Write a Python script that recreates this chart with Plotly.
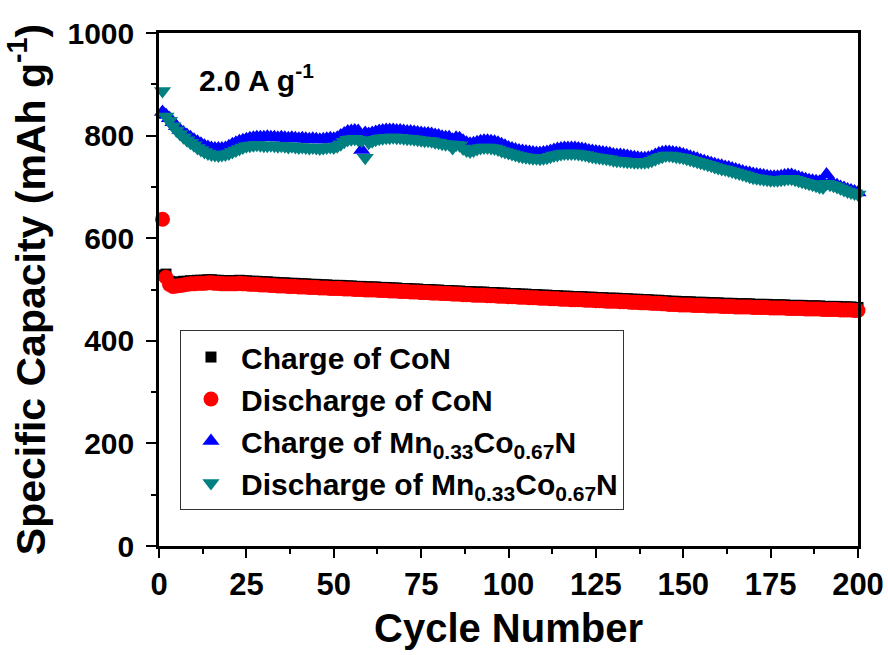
import plotly.graph_objects as go

# Cycle index (1..200)
cycles = list(range(1, 201))

# CoN - charge capacity (mAh g-1)
con_charge = [
    528, 530, 516, 513, 514, 515, 516, 516, 517, 517,
    518, 518, 518, 519, 519, 518, 518, 517, 517, 517,
    517, 517, 518, 517, 517, 516, 516, 516, 515, 515,
    515, 514, 514, 513, 513, 513, 512, 512, 512, 511,
    511, 511, 510, 510, 510, 509, 509, 509, 508, 508,
    508, 508, 507, 507, 507, 506, 506, 506, 505, 505,
    505, 505, 504, 504, 504, 503, 503, 503, 502, 502,
    502, 501, 501, 501, 500, 500, 500, 499, 499, 499,
    498, 498, 498, 497, 497, 497, 496, 496, 496, 495,
    495, 495, 495, 494, 494, 494, 493, 493, 493, 492,
    492, 492, 491, 491, 491, 490, 490, 490, 489, 489,
    489, 488, 488, 488, 487, 487, 487, 486, 486, 486,
    486, 485, 485, 485, 484, 484, 484, 483, 483, 483,
    483, 482, 482, 482, 481, 481, 481, 480, 480, 480,
    479, 479, 479, 478, 478, 477, 477, 477, 476, 476,
    476, 476, 475, 475, 475, 475, 474, 474, 474, 474,
    473, 473, 473, 473, 472, 472, 472, 472, 472, 471,
    471, 471, 471, 471, 470, 470, 470, 470, 470, 469,
    469, 469, 469, 469, 468, 468, 468, 468, 468, 467,
    467, 467, 467, 467, 466, 466, 466, 466, 465, 465,
]

# CoN - discharge capacity (mAh g-1)
con_discharge = [
    637, 524, 510, 506, 507, 508, 509, 510, 511, 511,
    512, 512, 512, 513, 513, 512, 512, 511, 511, 511,
    511, 511, 512, 511, 511, 510, 510, 510, 509, 509,
    509, 508, 508, 507, 507, 507, 506, 506, 506, 505,
    505, 505, 504, 504, 504, 503, 503, 503, 502, 502,
    502, 502, 501, 501, 501, 500, 500, 500, 499, 499,
    499, 499, 498, 498, 498, 497, 497, 497, 496, 496,
    496, 495, 495, 495, 494, 494, 494, 493, 493, 493,
    492, 492, 492, 491, 491, 491, 490, 490, 490, 489,
    489, 489, 489, 488, 488, 488, 487, 487, 487, 486,
    486, 486, 485, 485, 485, 484, 484, 484, 483, 483,
    483, 482, 482, 482, 481, 481, 481, 480, 480, 480,
    480, 479, 479, 479, 478, 478, 478, 477, 477, 477,
    477, 476, 476, 476, 475, 475, 475, 474, 474, 474,
    473, 473, 473, 472, 472, 471, 471, 471, 470, 470,
    470, 470, 469, 469, 469, 469, 468, 468, 468, 468,
    467, 467, 467, 467, 466, 466, 466, 466, 466, 465,
    465, 465, 465, 465, 464, 464, 464, 464, 464, 463,
    463, 463, 463, 463, 462, 462, 462, 462, 462, 461,
    461, 461, 461, 461, 460, 460, 460, 460, 459, 459,
]

# Mn0.33Co0.67N - charge capacity (mAh g-1)
mnco_charge = [
    846, 840, 834, 826, 818, 811, 806, 801, 797, 792,
    788, 784, 780, 778, 776, 775, 775, 775, 776, 779,
    783, 786, 789, 791, 793, 795, 796, 797, 797, 797,
    798, 797, 797, 796, 797, 796, 795, 796, 795, 794,
    795, 794, 793, 794, 793, 792, 793, 794, 795, 794,
    796, 800, 804, 808, 809, 810, 809, 772, 805, 803,
    805, 807, 809, 810, 811, 811, 811, 810, 810, 809,
    808, 808, 807, 806, 805, 804, 804, 803, 801, 800,
    798, 797, 797, 792, 796, 795, 790, 786, 784, 785,
    787, 789, 790, 790, 789, 788, 786, 783, 780, 777,
    775, 773, 771, 770, 769, 768, 767, 766, 766, 767,
    768, 770, 772, 774, 775, 776, 776, 776, 776, 775,
    774, 773, 771, 770, 769, 768, 767, 766, 765, 763,
    762, 762, 761, 760, 759, 758, 757, 756, 756, 757,
    759, 762, 765, 767, 768, 768, 767, 766, 765, 763,
    761, 759, 757, 755, 752, 750, 748, 746, 744, 742,
    741, 739, 738, 736, 734, 732, 730, 728, 727, 725,
    724, 723, 722, 721, 720, 720, 720, 721, 722, 723,
    723, 721, 719, 717, 715, 713, 712, 711, 710, 709,
    724, 708, 705, 703, 700, 698, 695, 693, 691, 689,
]

# Mn0.33Co0.67N - discharge capacity (mAh g-1)
mnco_discharge = [
    887, 837, 829, 818, 810, 803, 797, 791, 786, 781,
    776, 772, 768, 765, 763, 762, 761, 762, 763, 765,
    768, 771, 774, 777, 779, 780, 781, 782, 781, 780,
    780, 781, 780, 779, 780, 779, 778, 779, 778, 777,
    778, 777, 776, 777, 776, 775, 776, 777, 778, 777,
    779, 783, 788, 792, 793, 794, 792, 790, 757, 786,
    789, 792, 794, 795, 796, 796, 797, 796, 796, 795,
    794, 794, 793, 792, 791, 790, 790, 789, 787, 786,
    784, 783, 783, 776, 782, 781, 775, 771, 769, 771,
    774, 776, 777, 777, 776, 775, 773, 770, 768, 766,
    764, 762, 760, 759, 758, 757, 756, 756, 755, 756,
    757, 759, 761, 762, 764, 765, 765, 765, 765, 764,
    763, 762, 760, 759, 758, 757, 756, 755, 754, 752,
    751, 751, 750, 749, 749, 748, 748, 748, 748, 749,
    751, 754, 757, 759, 761, 761, 760, 759, 758, 757,
    755, 753, 751, 749, 747, 745, 743, 741, 739, 737,
    735, 734, 732, 730, 728, 726, 724, 722, 720, 718,
    717, 716, 715, 714, 713, 713, 713, 714, 715, 716,
    716, 714, 712, 710, 708, 706, 704, 702, 700, 699,
    706, 704, 702, 700, 697, 694, 691, 689, 687, 685,
]

FONT = "Liberation Sans, Arial, Helvetica, sans-serif"

series = [
    ("Charge of CoN", con_charge, "square", "#000000", 11),
    ("Discharge of CoN", con_discharge, "circle", "#FF0000", 15),
    ("Charge of Mn<sub>0.33</sub>Co<sub>0.67</sub>N", mnco_charge, "triangle-up", "#0000FF", 15),
    ("Discharge of Mn<sub>0.33</sub>Co<sub>0.67</sub>N", mnco_discharge, "triangle-down", "#008080", 15),
]

fig = go.Figure()
for name, vals, symbol, color, size in series:
    fig.add_trace(go.Scatter(
        x=cycles, y=vals, mode="markers", name=name,
        marker=dict(symbol=symbol, color=color, size=size, line=dict(width=0)),
        cliponaxis=False,
    ))

fig.update_layout(
    width=888, height=655,
    margin=dict(l=159, r=30, t=33, b=109),
    paper_bgcolor="white", plot_bgcolor="white",
    font=dict(family=FONT, color="black"),
    showlegend=True,
    legend=dict(
        x=0.030, y=0.421, xanchor="left", yanchor="top",
        bgcolor="white", bordercolor="#333333", borderwidth=1,
        font=dict(family=FONT, size=30, color="black", weight="bold"),
        itemwidth=50, tracegroupgap=0,
    ),
    annotations=[dict(
        x=11, y=912, xref="x", yref="y", xanchor="left", yanchor="middle",
        text="<b>2.0 A g<sup>-1</sup></b>", showarrow=False,
        font=dict(family=FONT, size=30, color="black"),
    )],
)

fig.update_xaxes(
    range=[0, 200], showgrid=False, zeroline=False, automargin=False,
    showline=True, linewidth=2.5, linecolor="black", mirror=True,
    ticks="outside", ticklen=9, tickwidth=2, tickcolor="black",
    tick0=0, dtick=25, ticklabeloverflow="allow",
    minor=dict(ticks="outside", ticklen=5, tickwidth=2, tickcolor="black", dtick=12.5),
    tickfont=dict(family=FONT, size=31, color="black", weight="bold"),
    title=dict(text="<b>Cycle Number</b>", font=dict(family=FONT, size=40, color="black"), standoff=14),
)
fig.update_yaxes(
    range=[0, 1000], showgrid=False, zeroline=False, automargin=False,
    showline=True, linewidth=2.5, linecolor="black", mirror=True,
    ticks="outside", ticklen=10, tickwidth=2, tickcolor="black",
    tick0=0, dtick=200,
    minor=dict(ticks="outside", ticklen=5, tickwidth=2, tickcolor="black", dtick=100),
    tickfont=dict(family=FONT, size=30, color="black", weight="bold"),
    ticklabelstandoff=6,
    title=dict(text="<b>Specific Capacity (mAh g<sup>-1</sup>)</b>",
               font=dict(family=FONT, size=41, color="black"), standoff=10),
)

fig.write_html("out.html")
